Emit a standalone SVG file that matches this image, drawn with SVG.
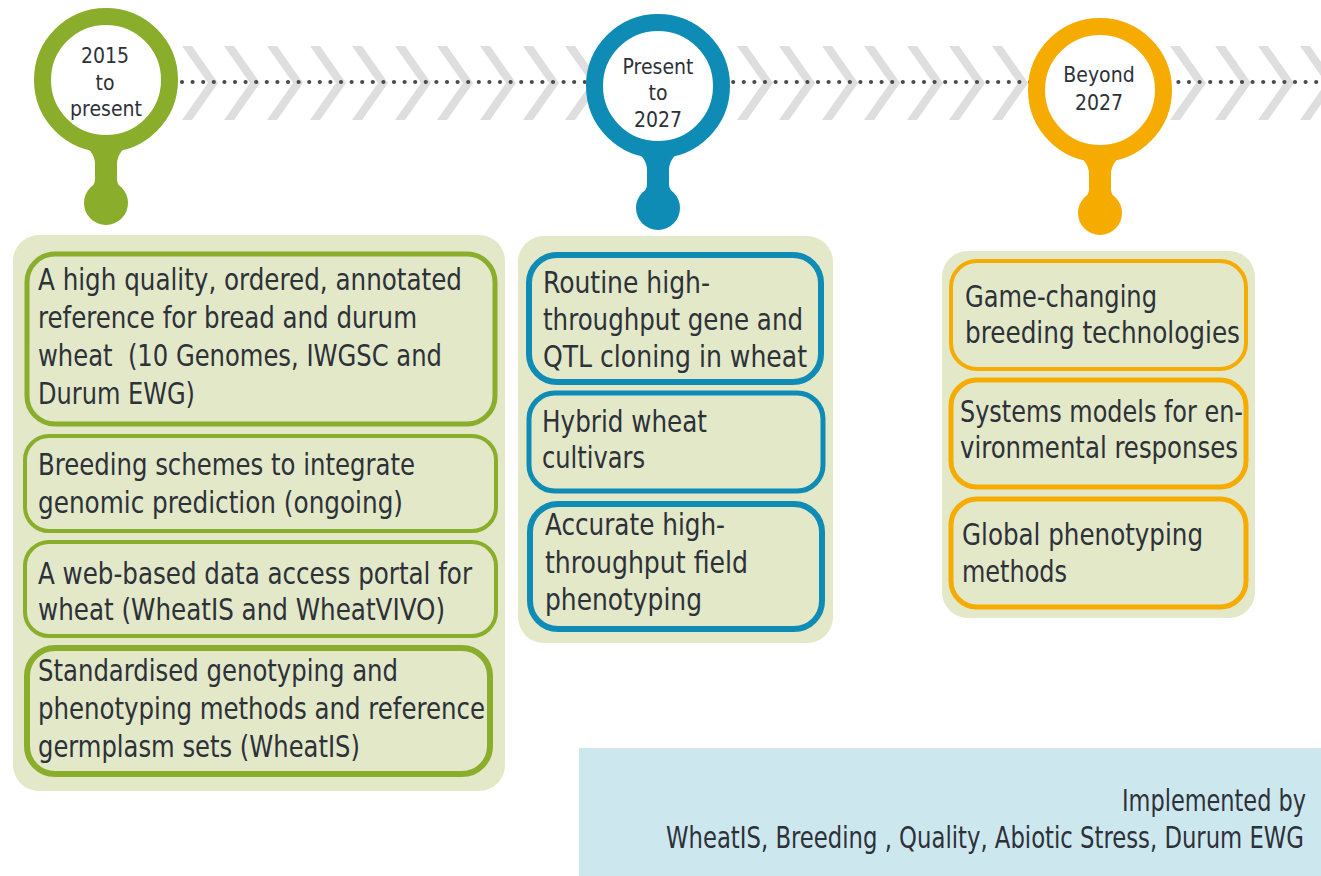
<svg xmlns="http://www.w3.org/2000/svg" xmlns:xlink="http://www.w3.org/1999/xlink" width="1321" height="876" viewBox="0 0 1321 876">
<style>
.t{font-family:"Liberation Sans Narrow","DejaVu Sans Condensed","Liberation Sans",sans-serif;fill:#2d3138;font-size:30px;}
.c{font-family:"Liberation Sans Narrow","DejaVu Sans Condensed","Liberation Sans",sans-serif;fill:#2d3138;font-size:21px;text-anchor:middle;}
.panel{fill:#e2e8c8;}
.g{fill:#e2e8c8;stroke:#8aae2c;}
.b{fill:#e2e8c8;stroke:#0e8cb6;}
.o{fill:#e2e8c8;stroke:#f5ab00;}
.chev{fill:#dedede;}
</style>
<defs>
<polygon id="chev" class="chev" points="0,46 10,46 36,83 10,120 0,120 26,83"/>
</defs>
<rect width="1321" height="876" fill="#ffffff"/>

<g id="connectors">
<g id="chevrons">
<use xlink:href="#chev" x="182"/><use xlink:href="#chev" x="224"/><use xlink:href="#chev" x="267"/><use xlink:href="#chev" x="310"/><use xlink:href="#chev" x="352"/><use xlink:href="#chev" x="395"/><use xlink:href="#chev" x="437"/><use xlink:href="#chev" x="480"/><use xlink:href="#chev" x="523"/><use xlink:href="#chev" x="565"/>
<use xlink:href="#chev" x="737"/><use xlink:href="#chev" x="779"/><use xlink:href="#chev" x="822"/><use xlink:href="#chev" x="864"/><use xlink:href="#chev" x="907"/><use xlink:href="#chev" x="949"/><use xlink:href="#chev" x="992"/>
<use xlink:href="#chev" x="1170"/><use xlink:href="#chev" x="1215"/><use xlink:href="#chev" x="1258"/><use xlink:href="#chev" x="1300"/>
</g>
<line x1="182" y1="82" x2="1321" y2="82" stroke="#4a4a4a" stroke-width="4.2" stroke-linecap="round" stroke-dasharray="0 10.6"/>
</g>

<g id="pin-2015">
<path fill="#8aae2c" d="M76,140 Q95,150 95,164 L95,179 Q95,185 89,191 L123,191 Q117,185 117,179 L117,164 Q117,150 136,140 Z"/>
<circle cx="106" cy="203" r="22" fill="#8aae2c"/>
<circle cx="106" cy="80" r="63.5" fill="#ffffff" stroke="#8aae2c" stroke-width="17"/>
<text class="c" x="105" y="63">2015</text>
<text class="c" x="105" y="90">to</text>
<text class="c" x="106" y="116">present</text>
</g>

<g id="pin-2027">
<path fill="#0e8cb6" d="M628,146 Q647,156 647,170 L647,184 Q647,190 641,196 L675,196 Q669,190 669,184 L669,170 Q669,156 688,146 Z"/>
<circle cx="658" cy="208" r="22" fill="#0e8cb6"/>
<circle cx="658" cy="86" r="63.5" fill="#ffffff" stroke="#0e8cb6" stroke-width="17"/>
<text class="c" x="658" y="74">Present</text>
<text class="c" x="658" y="100">to</text>
<text class="c" x="658" y="127">2027</text>
</g>

<g id="pin-beyond">
<path fill="#f5ab00" d="M1070,150 Q1089,160 1089,174 L1089,189 Q1089,195 1083,201 L1117,201 Q1111,195 1111,189 L1111,174 Q1111,160 1130,150 Z"/>
<circle cx="1100" cy="213" r="22" fill="#f5ab00"/>
<circle cx="1100" cy="90" r="63.5" fill="#ffffff" stroke="#f5ab00" stroke-width="17"/>
<text class="c" x="1099" y="82">Beyond</text>
<text class="c" x="1099" y="110">2027</text>
</g>

<g id="panel-2015">
<rect class="panel" x="13" y="235" width="492" height="556" rx="26"/>
<g id="g1">
<rect class="g" x="27" y="254" width="468" height="170" rx="28" stroke-width="5"/>
<text class="t" x="38" y="290" textLength="424" lengthAdjust="spacingAndGlyphs">A high quality, ordered, annotated</text>
<text class="t" x="38" y="328" textLength="379" lengthAdjust="spacingAndGlyphs">reference for bread and durum</text>
<text class="t" x="38" y="366" textLength="404" lengthAdjust="spacingAndGlyphs">wheat&#160; (10 Genomes, IWGSC and</text>
<text class="t" x="38" y="404" textLength="157" lengthAdjust="spacingAndGlyphs">Durum EWG)</text>
</g>
<g id="g2">
<rect class="g" x="25" y="436" width="471" height="95" rx="24" stroke-width="4"/>
<text class="t" x="38" y="475" textLength="377" lengthAdjust="spacingAndGlyphs">Breeding schemes to integrate</text>
<text class="t" x="38" y="513" textLength="365" lengthAdjust="spacingAndGlyphs">genomic prediction (ongoing)</text>
</g>
<g id="g3">
<rect class="g" x="25" y="542" width="471" height="94" rx="24" stroke-width="4"/>
<text class="t" x="38" y="584" textLength="434" lengthAdjust="spacingAndGlyphs">A web-based data access portal for</text>
<text class="t" x="38" y="620" textLength="407" lengthAdjust="spacingAndGlyphs">wheat (WheatIS and WheatVIVO)</text>
</g>
<g id="g4">
<rect class="g" x="27" y="648" width="463" height="126" rx="28" stroke-width="6"/>
<text class="t" x="38" y="681" textLength="360" lengthAdjust="spacingAndGlyphs">Standardised genotyping and</text>
<text class="t" x="38" y="719" textLength="447" lengthAdjust="spacingAndGlyphs">phenotyping methods and reference</text>
<text class="t" x="38" y="757" textLength="322" lengthAdjust="spacingAndGlyphs">germplasm sets (WheatIS)</text>
</g>
</g>

<g id="panel-2027">
<rect class="panel" x="518" y="236" width="315" height="407" rx="26"/>
<g id="b1">
<rect class="b" x="529" y="255" width="292" height="127" rx="28" stroke-width="6"/>
<text class="t" x="543" y="293" textLength="167" lengthAdjust="spacingAndGlyphs">Routine high-</text>
<text class="t" x="543" y="330" textLength="260" lengthAdjust="spacingAndGlyphs">throughput gene and</text>
<text class="t" x="543" y="367" textLength="264" lengthAdjust="spacingAndGlyphs">QTL cloning in wheat</text>
</g>
<g id="b2">
<rect class="b" x="529" y="393" width="294" height="98" rx="26" stroke-width="5"/>
<text class="t" x="542" y="432" textLength="165" lengthAdjust="spacingAndGlyphs">Hybrid wheat</text>
<text class="t" x="542" y="468" textLength="103" lengthAdjust="spacingAndGlyphs">cultivars</text>
</g>
<g id="b3">
<rect class="b" x="530" y="504" width="292" height="125" rx="28" stroke-width="6"/>
<text class="t" x="545" y="535" textLength="180" lengthAdjust="spacingAndGlyphs">Accurate high-</text>
<text class="t" x="545" y="573" textLength="203" lengthAdjust="spacingAndGlyphs">throughput field</text>
<text class="t" x="545" y="610" textLength="157" lengthAdjust="spacingAndGlyphs">phenotyping</text>
</g>
</g>

<g id="panel-beyond">
<rect class="panel" x="942" y="251" width="313" height="367" rx="26"/>
<g id="o1">
<rect class="o" x="951" y="261" width="295" height="108" rx="26" stroke-width="4"/>
<text class="t" x="965" y="307" textLength="192" lengthAdjust="spacingAndGlyphs">Game-changing</text>
<text class="t" x="965" y="343" textLength="275" lengthAdjust="spacingAndGlyphs">breeding technologies</text>
</g>
<g id="o2">
<rect class="o" x="951" y="380" width="295" height="107" rx="26" stroke-width="5"/>
<text class="t" x="960" y="422" textLength="283" lengthAdjust="spacingAndGlyphs">Systems models for en-</text>
<text class="t" x="960" y="458" textLength="278" lengthAdjust="spacingAndGlyphs">vironmental responses</text>
</g>
<g id="o3">
<rect class="o" x="951" y="499" width="295" height="108" rx="26" stroke-width="5"/>
<text class="t" x="962" y="545" textLength="241" lengthAdjust="spacingAndGlyphs">Global phenotyping</text>
<text class="t" x="962" y="582" textLength="105" lengthAdjust="spacingAndGlyphs">methods</text>
</g>
</g>

<g id="implemented">
<rect x="579" y="748" width="742" height="128" fill="#cde7ef"/>
<text class="t" x="1306" y="811" text-anchor="end" textLength="184" lengthAdjust="spacingAndGlyphs">Implemented by</text>
<text class="t" x="666" y="848" textLength="638" lengthAdjust="spacingAndGlyphs">WheatIS, Breeding , Quality, Abiotic Stress, Durum EWG</text>
</g>
</svg>
